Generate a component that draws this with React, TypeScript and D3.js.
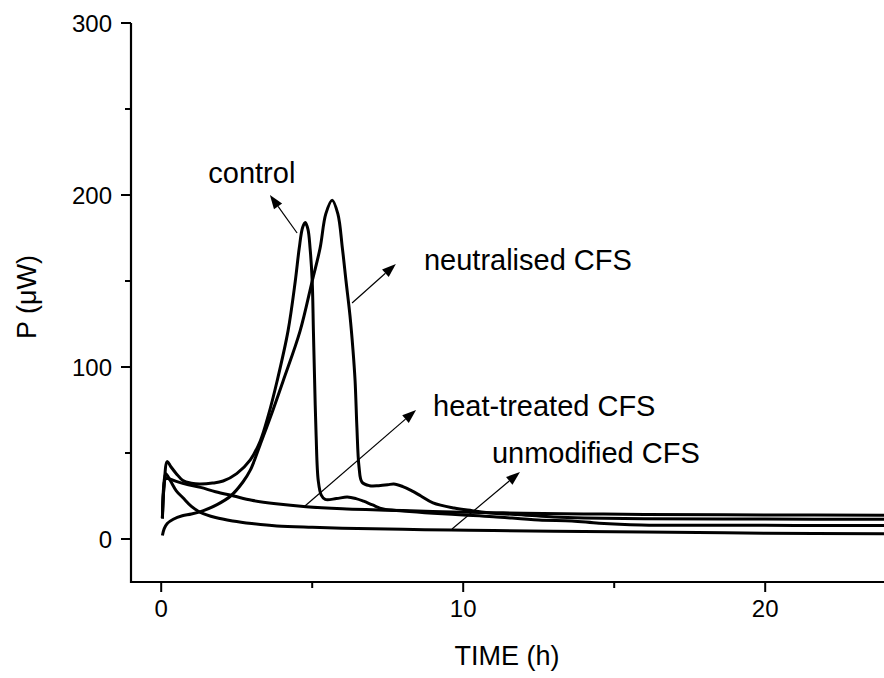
import React from 'react';
import * as d3 from 'd3';

// ---- data (time in h, power in µW) ----
const controlTime = [0.04, 0.1, 0.2, 0.32, 0.5, 0.72, 1.0, 1.27, 1.7, 2.05, 2.5, 2.95, 3.28, 3.55, 3.84, 4.2, 4.44, 4.57, 4.68, 4.77, 4.86, 4.93, 5.0, 5.04, 5.08, 5.13, 5.2, 5.3, 5.43, 5.8, 6.16, 6.45, 6.7, 7.0, 7.35, 8.0, 9.0, 10.0, 11.0, 12.5, 13.6, 14.5, 15.9, 18, 21, 24];
const controlPower = [12, 32, 45, 42, 38, 34, 32.5, 32, 32.5, 33.7, 38, 46, 57, 72, 92, 121, 150, 169, 181, 184, 180, 169, 150, 121, 92, 60, 34, 25.5, 23, 23.5, 24.4, 23.5, 22, 19.8, 17.4, 16.3, 15, 14, 13, 11, 10.5, 9.2, 8.2, 8.0, 7.9, 7.8];

const neutralisedTime = [0.04, 0.1, 0.2, 0.4, 0.7, 1.0, 1.4, 1.85, 2.3, 2.7, 2.95, 3.28, 3.6, 4.04, 4.6, 5.0, 5.26, 5.45, 5.66, 5.85, 6.0, 6.12, 6.25, 6.35, 6.42, 6.48, 6.55, 6.65, 6.9, 7.2, 7.5, 7.7, 8.0, 8.3, 8.6, 9.0, 9.7, 10.3, 11.0, 12.0, 13.0, 14.0, 16, 20, 24];
const neutralisedPower = [2, 6, 9, 11.5, 13.5, 14.5, 16.5, 20, 25, 33, 40, 55, 70, 92, 121, 150, 169, 189, 197, 189, 169, 150, 130, 110, 92, 65, 42, 33, 31, 31, 31.5, 32, 30.5, 28, 25, 21, 18, 16.5, 15, 14, 12.8, 12.2, 11.8, 11.6, 11.5];

const heatTreatedTime = [0.04, 0.08, 0.14, 0.25, 0.5, 0.9, 1.3, 1.8, 2.4, 3.0, 3.8, 4.8, 6, 7, 8, 9, 10, 11, 12, 14, 16, 20, 24];
const heatTreatedPower = [12, 28, 35, 35, 33.5, 31.5, 30, 27.5, 25, 22.5, 20.5, 18.8, 17.6, 17, 16.5, 16, 15.6, 15.3, 15, 14.6, 14.3, 14, 13.8];

const unmodifiedTime = [0.04, 0.08, 0.15, 0.3, 0.5, 0.72, 1.0, 1.3, 1.8, 2.37, 3.0, 3.83, 5, 6.5, 8, 9.6, 11, 13, 16, 20, 24];
const unmodifiedPower = [12, 30, 38, 34, 28, 24, 19, 15.5, 12.5, 10.5, 9, 7.6, 6.8, 6.1, 5.6, 5.2, 4.9, 4.5, 4, 3.4, 3];

const xMajorTicks = [0, 10, 20];
const xMinorTicks = [5, 15];
const yMajorTicks = [0, 100, 200, 300];
const yMinorTicks = [50, 150, 250];

// annotation labels and arrows (data coordinates)
const annotationLabels = ['control', 'neutralised CFS', 'heat-treated CFS', 'unmodified CFS'];
const labelAnchors: [number, number][] = [[1.56, 207], [8.7, 156.4], [9.0, 71.5], [10.95, 44.2]];
const arrowStarts: [number, number][] = [[4.5, 177.9], [6.32, 137.2], [4.76, 19.2], [9.63, 5.8]];
const arrowTips: [number, number][] = [[3.6, 200], [7.77, 159.9], [8.44, 75], [11.88, 39]];

const FONT = '"Liberation Sans", Arial, Helvetica, sans-serif';

export default function App() {
  const x = d3.scaleLinear().domain([-1, 24]).range([131, 886]);
  const y = d3.scaleLinear().domain([-25, 300]).range([582, 23]);
  const line = d3
    .line<[number, number]>()
    .x((d) => x(d[0]))
    .y((d) => y(d[1]))
    .curve(d3.curveCatmullRom.alpha(0.5));

  const series: [number[], number[]][] = [
    [controlTime, controlPower],
    [neutralisedTime, neutralisedPower],
    [heatTreatedTime, heatTreatedPower],
    [unmodifiedTime, unmodifiedPower],
  ];

  const x0 = x.range()[0];
  const yBottom = y.range()[0];
  const yTop = y(300);

  return (
    <svg
      width={884}
      height={678}
      style={{ position: 'absolute', left: 0, top: 0, background: '#fff' }}
      fontFamily={FONT}
    >
      <rect x={0} y={0} width={884} height={678} fill="#fff" />
      {/* curves */}
      {series.map(([t, p], i) => (
        <path
          key={i}
          d={line(t.map((tt, j) => [tt, p[j]] as [number, number])) || ''}
          fill="none"
          stroke="#000"
          strokeWidth={3}
          strokeLinejoin="round"
        />
      ))}
      {/* axes */}
      <line x1={x0} x2={884} y1={yBottom} y2={yBottom} stroke="#000" strokeWidth={2.2} />
      <line x1={x0} x2={x0} y1={yTop} y2={yBottom + 1} stroke="#000" strokeWidth={2.2} />
      {xMajorTicks.map((t) => (
        <g key={'xm' + t}>
          <line x1={x(t)} x2={x(t)} y1={yBottom} y2={yBottom + 10} stroke="#000" strokeWidth={2} />
          <text x={x(t)} y={617} fontSize={24} textAnchor="middle">
            {t}
          </text>
        </g>
      ))}
      {xMinorTicks.map((t) => (
        <line key={'xn' + t} x1={x(t)} x2={x(t)} y1={yBottom} y2={yBottom + 6} stroke="#000" strokeWidth={2} />
      ))}
      {yMajorTicks.map((v) => (
        <g key={'ym' + v}>
          <line x1={x0 - 10} x2={x0} y1={y(v)} y2={y(v)} stroke="#000" strokeWidth={2} />
          <text x={112} y={y(v) + 8.5} fontSize={24} textAnchor="end">
            {v}
          </text>
        </g>
      ))}
      {yMinorTicks.map((v) => (
        <line key={'yn' + v} x1={x0 - 6} x2={x0} y1={y(v)} y2={y(v)} stroke="#000" strokeWidth={2} />
      ))}
      <text x={507} y={665} fontSize={27} textAnchor="middle">
        TIME (h)
      </text>
      <text
        transform={`translate(36,${297}) rotate(-90)`}
        fontSize={27}
        textAnchor="middle"
      >
        P (μW)
      </text>
      {/* annotations */}
      {annotationLabels.map((lab, i) => {
        const [sx, sy] = [x(arrowStarts[i][0]), y(arrowStarts[i][1])];
        const [tx, ty] = [x(arrowTips[i][0]), y(arrowTips[i][1])];
        const ang = Math.atan2(ty - sy, tx - sx);
        const L = 14;
        const W = 5;
        const bx = tx - L * Math.cos(ang);
        const by = ty - L * Math.sin(ang);
        const px = -Math.sin(ang) * W;
        const py = Math.cos(ang) * W;
        return (
          <g key={'a' + i}>
            <line x1={sx} y1={sy} x2={bx} y2={by} stroke="#000" strokeWidth={1.2} />
            <polygon points={`${tx},${ty} ${bx + px},${by + py} ${bx - px},${by - py}`} fill="#000" />
            <text x={x(labelAnchors[i][0])} y={y(labelAnchors[i][1])} fontSize={29}>
              {lab}
            </text>
          </g>
        );
      })}
    </svg>
  );
}
